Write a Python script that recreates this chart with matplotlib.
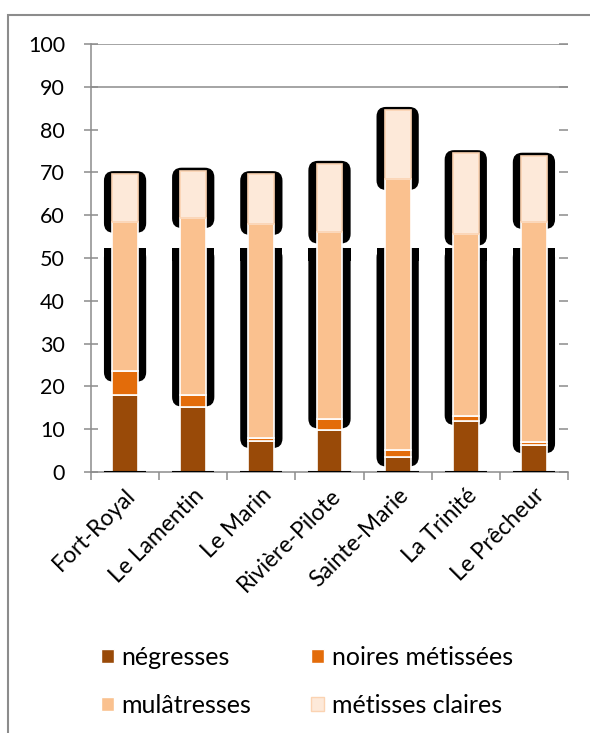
import matplotlib.pyplot as plt
from matplotlib.patches import FancyBboxPatch, Rectangle, Patch
import numpy as np

plt.rcParams['font.family'] = ['Lato', 'DejaVu Sans']

communes = ['Fort-Royal', 'Le Lamentin', 'Le Marin', 'Rivière-Pilote',
            'Sainte-Marie', 'La Trinité', 'Le Prêcheur']
negresses = [18.0, 15.3, 7.2, 9.8, 3.6, 11.9, 6.3]
noires = [5.6, 2.7, 0.8, 2.7, 1.5, 1.2, 0.8]
mulatresses = [34.9, 41.3, 49.9, 43.5, 63.4, 42.5, 51.2]
claires = [11.1, 11.1, 11.7, 16.0, 16.1, 18.9, 15.6]
labels = ['négresses', 'noires métissées', 'mulâtresses', 'métisses claires']

# the black "shadow" behind each bar
shadow_low = [21.1, 15.3, 5.6, 10.2, 1.3, 11.0, 4.4]
shadow_cut = [55.9, 57.0, 55.4, 53.4, 65.9, 52.9, 56.8]
shadow_split = 52.4

colors = ['#994a08', '#e36c0a', '#fac18f', '#fde9d9']
edges = ['white', 'white', 'white', '#fbd3b2']
gray = '#8c8c8c'

fig = plt.figure(figsize=(5.9, 7.33), dpi=100)
ax = fig.add_axes([91 / 590, 1 - 472 / 733, 477 / 590, 428 / 733])

x = np.arange(len(communes))
series = [negresses, noires, mulatresses, claires]
totals = np.sum(series, axis=0)
bw = 0.38
sw = 0.62
rad = 0.14
asp = 16

for i in range(len(communes)):
    top = totals[i] + 0.7
    up = FancyBboxPatch((x[i] - sw / 2, shadow_cut[i]), sw, top - shadow_cut[i],
                        boxstyle='round,pad=0,rounding_size=%f' % rad,
                        mutation_aspect=asp, fc='black', ec='none', zorder=1)
    ax.add_patch(up)
    low = FancyBboxPatch((x[i] - sw / 2, shadow_low[i]), sw, shadow_split - shadow_low[i],
                         boxstyle='round,pad=0,rounding_size=%f' % rad,
                         mutation_aspect=asp, fc='black', ec='none', zorder=1)
    ax.add_patch(low)
    ax.add_patch(Rectangle((x[i] - sw / 2, shadow_split - 3), sw, 3,
                           fc='black', ec='none', zorder=1))

bottom = np.zeros(len(communes))
for vals, c, e in zip(series, colors, edges):
    ax.bar(x, vals, bw, bottom=bottom, color=c, edgecolor=e, linewidth=1.2, zorder=2)
    bottom += np.array(vals)

ax.hlines(np.zeros(len(communes)), x - sw / 2, x + sw / 2, color='black', lw=1.5, zorder=3)

for v in [90, 100]:
    ax.axhline(v, color=gray, lw=1.1, zorder=0)

ax.set_xlim(-0.5, len(communes) - 0.5)
ax.set_ylim(0, 100)
ax.set_yticks(range(0, 101, 10))
ax.set_xticks(x)
ax.set_xticklabels(communes, rotation=45, ha='right', va='top',
                   rotation_mode='anchor', fontsize=16.5)
ax.set_xticks(np.arange(len(communes) + 1) - 0.5, minor=True)
ax.tick_params(axis='x', which='major', length=0, pad=9)
ax.tick_params(axis='x', which='minor', length=6, width=1.1, color=gray, direction='out')
ax.tick_params(axis='y', length=9.4, width=1.1, color=gray, direction='inout',
               labelsize=15.5, pad=14)

for s in ['top', 'right']:
    ax.spines[s].set_visible(False)
for s in ['left', 'bottom']:
    ax.spines[s].set_color(gray)
    ax.spines[s].set_linewidth(1.1)

ax2 = ax.twinx()
ax2.set_ylim(0, 100)
ax2.set_yticks(range(0, 101, 10))
ax2.tick_params(axis='y', length=6.5, width=1.1, color=gray, direction='in', labelright=False)
for s in ax2.spines.values():
    s.set_visible(False)

# legend reads row by row: reorder for matplotlib's column filling
order = [0, 2, 1, 3]
handles = [Patch(facecolor=colors[k], edgecolor=edges[k]) for k in order]
fig.legend(handles, [labels[k] for k in order], loc='upper left',
           bbox_to_anchor=(101 / 590, 1 - 646 / 733),
           ncol=2, frameon=False, fontsize=18, handlelength=0.52, handleheight=0.52,
           handletextpad=0.3, columnspacing=2.4, labelspacing=1.0,
           borderpad=0, borderaxespad=0)

fig.add_artist(Rectangle((8 / 590, -0.05), 1.2, 1.05 - 15 / 733, transform=fig.transFigure,
                         fill=False, edgecolor=gray, lw=1.5))

fig.savefig('out.png', dpi=100)
